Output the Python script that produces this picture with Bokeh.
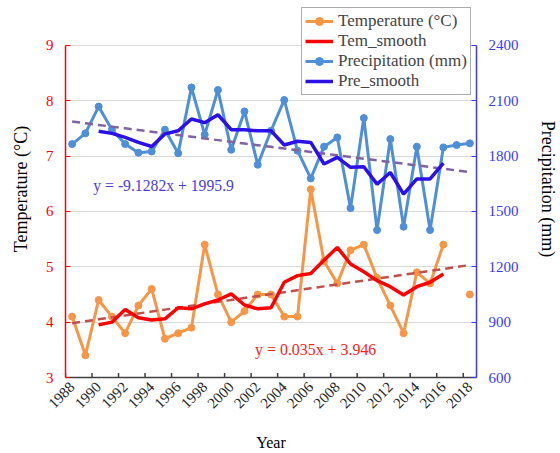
import math
from bokeh.plotting import figure
from bokeh.models import Range1d, LinearAxis, FixedTicker, Legend, LegendItem, Label
from bokeh.embed import file_html
from bokeh.resources import INLINE

nan = float("nan")
years = list(range(1988, 2019))
temperature = [4.1, 3.4, 4.4, 4.1, 3.8, 4.3, 4.6, 3.7, 3.8, 3.9, 5.4, 4.5, 4.0, 4.2, 4.5, 4.5,
               4.1, 4.1, 6.4, 5.1, 4.7, 5.3, 5.4, 4.8, 4.3, 3.8, 4.9, 4.7, 5.4, nan, 4.5]
precipitation = [1865, 1923, 2068, 1943, 1865, 1818, 1825, 1943, 1815, 2172, 1916, 2158, 1834, 2042,
                 1753, 1937, 2104, 1829, 1679, 1851, 1901, 1518, 2006, 1399, 1892, 1417, 1851, 1399,
                 1847, 1860, 1869]
smooth_years = list(range(1990, 2017))
tem_smooth = [3.95, 4.0, 4.23, 4.08, 4.04, 4.06, 4.26, 4.24, 4.33, 4.40, 4.51, 4.31, 4.24, 4.26,
              4.72, 4.84, 4.88, 5.12, 5.35, 5.05, 4.91, 4.75, 4.64, 4.49, 4.64, 4.72, 4.87]
pre_smooth = [1934, 1923, 1901, 1874, 1852, 1920, 1937, 2001, 1981, 2024, 1943, 1943, 1937, 1937,
              1860, 1880, 1874, 1757, 1793, 1739, 1742, 1648, 1711, 1594, 1676, 1676, 1762]
tem_trend = (0.035, 3.946)
pre_trend = (-9.1282, 1995.9)
temp_ticks = [3, 4, 5, 6, 7, 8, 9]
pre_ticks = [600, 900, 1200, 1500, 1800, 2100, 2400]
year_ticks = years[::2]

FONT = "Liberation Serif"
ORANGE = "#F79646"
LBLUE = "#4E8FD8"
RED = "#FF0000"
DBLUE = "#2C10E8"
AXBLUE = "#3A3AFF"

# frame reaches the top of the canvas so the legend (which sits above 9 °C) is not clipped
T_TOP = 9.81
P_TOP = 600 + (T_TOP - 3) * 300

p = figure(width=560, height=453, x_range=Range1d(1987.5, 2018.5), y_range=Range1d(3, T_TOP),
           output_backend="svg", toolbar_location=None,
           min_border_left=65, min_border_right=83, min_border_top=0, min_border_bottom=76)
p.extra_y_ranges = {"pre": Range1d(600, P_TOP)}
p.outline_line_color = None
p.background_fill_color = "white"
p.border_fill_color = "white"

# x axis
xa = p.xaxis[0]
xa.ticker = FixedTicker(ticks=year_ticks)
xa.major_label_orientation = math.pi / 4
xa.major_tick_in = 0
xa.major_tick_out = 0
xa.minor_tick_line_color = None
xa.axis_line_color = "#404040"
xa.axis_line_width = 1.5
xa.major_label_text_font = FONT
xa.major_label_text_font_size = "15px"
xa.major_label_text_color = "#262626"
xa.major_label_standoff = 7
xa.axis_label = "Year"
xa.axis_label_text_font = FONT
xa.axis_label_text_font_size = "16px"
xa.axis_label_text_font_style = "normal"
xa.axis_label_text_color = "#000000"
xa.axis_label_standoff = 18

# left axis
ya = p.yaxis[0]
ya.ticker = FixedTicker(ticks=temp_ticks)
ya.bounds = (3, 9)
ya.major_tick_in = 5
ya.major_tick_out = 0
ya.minor_tick_line_color = None
ya.axis_line_color = RED
ya.axis_line_width = 1.5
ya.major_tick_line_color = RED
ya.major_label_text_color = RED
ya.major_label_text_font = FONT
ya.major_label_text_font_size = "15px"
ya.major_label_standoff = 12
ya.axis_label = "Temperature (°C)"
ya.axis_label_text_font = FONT
ya.axis_label_text_font_size = "18px"
ya.axis_label_text_font_style = "normal"
ya.axis_label_text_color = "#000000"
ya.axis_label_standoff = 12

# right axis
ra = LinearAxis(y_range_name="pre", ticker=FixedTicker(ticks=pre_ticks))
ra.bounds = (600, 2400)
ra.major_tick_in = 5
ra.major_tick_out = 0
ra.minor_tick_line_color = None
ra.axis_line_color = AXBLUE
ra.axis_line_width = 1.5
ra.major_tick_line_color = AXBLUE
ra.major_label_text_color = AXBLUE
ra.major_label_text_font = FONT
ra.major_label_text_font_size = "15px"
ra.major_label_standoff = 12
ra.axis_label = "Precipitation (mm)"
ra.axis_label_text_font = FONT
ra.axis_label_text_font_size = "18px"
ra.axis_label_text_font_style = "normal"
ra.axis_label_text_color = "#000000"
ra.axis_label_standoff = 16
p.add_layout(ra, "right")

p.xgrid.visible = False
p.ygrid.ticker = FixedTicker(ticks=temp_ticks)
p.ygrid.bounds = (3, 9)
p.ygrid.grid_line_color = "#D9D9D9"
p.ygrid.grid_line_width = 1.2

# inside tick marks at category boundaries on the x axis
bounds = [y - 0.5 for y in year_ticks]
p.segment(x0=bounds, y0=[3] * len(bounds), x1=bounds, y1=[3.08] * len(bounds),
          line_color="#404040", line_width=1.5)

# trend lines
idx = [i + 1 for i in range(len(years))]
tem_fit = [tem_trend[0] * i + tem_trend[1] for i in idx]
pre_fit = [pre_trend[0] * i + pre_trend[1] for i in idx]

t_line = p.line(years, temperature, line_color=ORANGE, line_width=3)
t_pts = p.scatter(years, temperature, size=7, fill_color=ORANGE, line_color=ORANGE)
p.line(years, tem_fit, line_color="#C0504D", line_width=2.5, line_dash="8 5")
ts_line = p.line(smooth_years, tem_smooth, line_color=RED, line_width=3.5)

p_line = p.line(years, precipitation, line_color=LBLUE, line_width=3, y_range_name="pre")
p_pts = p.scatter(years, precipitation, size=7, fill_color=LBLUE, line_color=LBLUE, y_range_name="pre")
p.line(years, pre_fit, line_color="#8064A2", line_width=2.5, line_dash="8 5", y_range_name="pre")
ps_line = p.line(smooth_years, pre_smooth, line_color=DBLUE, line_width=3.5, y_range_name="pre")

# equations
p.add_layout(Label(x=1989.6, y=6.46, text="y = -9.1282x + 1995.9", text_font=FONT,
                   text_font_size="15.7px", text_color="#4B3BE0", text_baseline="middle",
                   text_align="left"))
p.add_layout(Label(x=2001.8, y=3.51, text="y = 0.035x + 3.946", text_font=FONT,
                   text_font_size="15.9px", text_color="#FF2020", text_baseline="middle",
                   text_align="left"))

legend = Legend(items=[
    LegendItem(label="Temperature (°C)", renderers=[t_line, t_pts]),
    LegendItem(label="Tem_smooth", renderers=[ts_line]),
    LegendItem(label="Precipitation (mm)", renderers=[p_line, p_pts]),
    LegendItem(label="Pre_smooth", renderers=[ps_line]),
], location=(236, 282))
legend.label_text_font = FONT
legend.label_text_font_size = "17px"
legend.label_height = 20
legend.glyph_height = 20
legend.glyph_width = 28
legend.label_standoff = 5
legend.spacing = 0
legend.padding = 3
legend.margin = 0
legend.border_line_color = "#595959"
legend.border_line_width = 1
legend.background_fill_color = "white"
legend.background_fill_alpha = 1
p.add_layout(legend, "center")

open("out.html", "w").write(file_html(p, INLINE))
